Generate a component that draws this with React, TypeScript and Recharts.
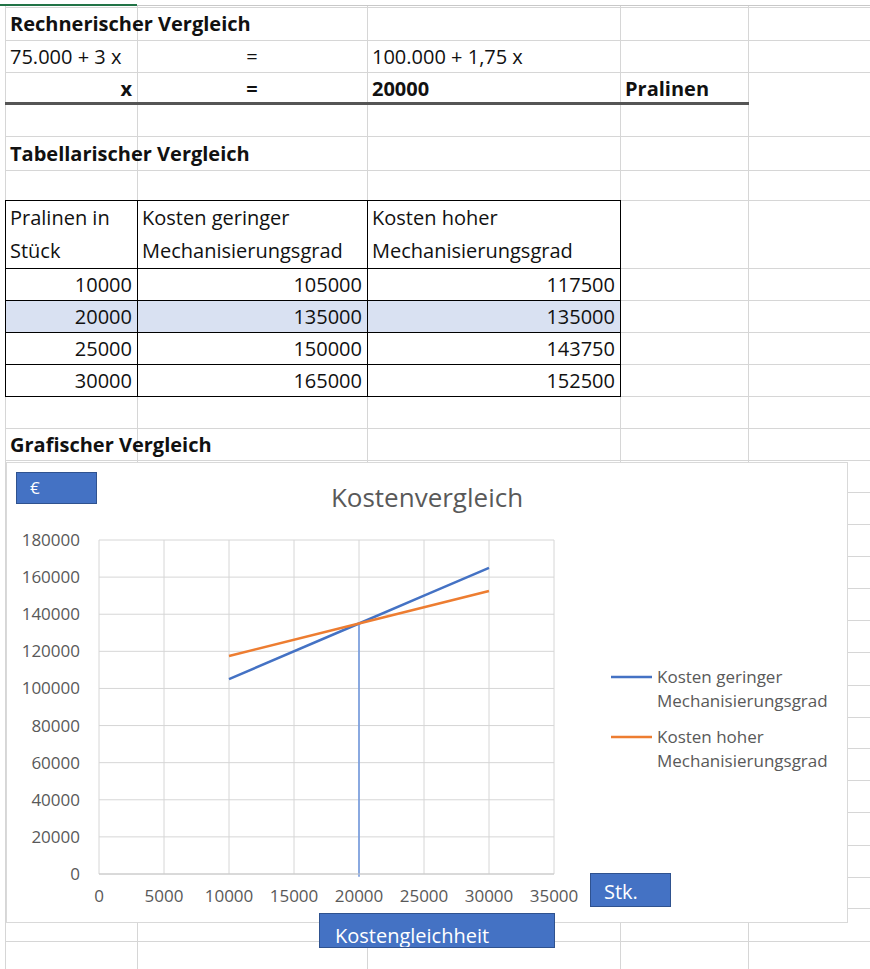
import React from 'react';
import { LineChart, Line, XAxis, YAxis, CartesianGrid, Legend, ReferenceLine } from 'recharts';

// ---- data ----
const units = [10000, 20000, 25000, 30000];
const costLow = [105000, 135000, 150000, 165000];
const costHigh = [117500, 135000, 143750, 152500];
const xTicks = [0, 5000, 10000, 15000, 20000, 25000, 30000, 35000];
const yTicks = [0, 20000, 40000, 60000, 80000, 100000, 120000, 140000, 160000, 180000];
const seriesLow = 'Kosten geringer Mechanisierungsgrad';
const seriesHigh = 'Kosten hoher Mechanisierungsgrad';
const breakEven = { x: 20000, y: 135000 };

const FONT = '"Open Sans", "DejaVu Sans", sans-serif';
const GRID = '#d6d6d6';
const BLUE = '#4472C4';
const ORANGE = '#ED7D31';
const TXT = '#595959';

const colX = [5, 137, 367, 620, 748, 870];
const rowY = [7, 40, 72, 104, 136, 170, 200, 268, 300, 332, 364, 396, 428, 460];
const extraRowY = [492, 524, 556, 588, 620, 652, 685, 717, 748, 780, 812, 845, 877, 908, 941];

type CellProps = {
  c: number;
  r: number;
  text: React.ReactNode;
  align?: 'left' | 'right' | 'center';
  bold?: boolean;
  span?: number;
};

function Cell({ c, r, text, align = 'left', bold = false, span = 1 }: CellProps) {
  const left = colX[c];
  const width = colX[c + span] - left;
  const top = rowY[r];
  const height = rowY[r + 1] - top;
  return (
    <div
      style={{
        position: 'absolute',
        left,
        top,
        width,
        height,
        display: 'flex',
        alignItems: 'center',
        justifyContent: align === 'left' ? 'flex-start' : align === 'right' ? 'flex-end' : 'center',
        padding: '0 5px',
        boxSizing: 'border-box',
        fontWeight: bold ? 700 : 400,
        fontSize: 20,
        whiteSpace: 'nowrap',
        overflow: 'visible',
        color: '#111',
      }}
    >
      {text}
    </div>
  );
}

function HLine({ y, x1, x2, color = GRID, w = 1 }: { y: number; x1: number; x2: number; color?: string; w?: number }) {
  return <div style={{ position: 'absolute', left: x1, top: y, width: x2 - x1, height: w, background: color }} />;
}
function VLine({ x, y1, y2, color = GRID, w = 1 }: { x: number; y1: number; y2: number; color?: string; w?: number }) {
  return <div style={{ position: 'absolute', left: x, top: y1, width: w, height: y2 - y1, background: color }} />;
}

function LegendContent() {
  const items = [
    { name: seriesLow, color: BLUE },
    { name: seriesHigh, color: ORANGE },
  ];
  return (
    <div style={{ fontFamily: FONT, fontSize: 17, color: TXT }}>
      {items.map((it, i) => {
        const words = it.name.split(' ');
        const l1 = words.slice(0, 2).join(' ');
        const l2 = words.slice(2).join(' ');
        return (
          <div key={i} style={{ display: 'flex', marginBottom: 12 }}>
            <svg width={46} height={24} style={{ flex: 'none' }}>
              <line x1={0} y1={12} x2={41} y2={12} stroke={it.color} strokeWidth={2.5} />
            </svg>
            <div style={{ lineHeight: '24px', whiteSpace: 'nowrap' }}>
              <div>{l1}</div>
              <div>{l2}</div>
            </div>
          </div>
        );
      })}
    </div>
  );
}

const boxStyle: React.CSSProperties = {
  position: 'absolute',
  background: BLUE,
  border: '1px solid #2F528F',
  boxSizing: 'border-box',
  color: '#fff',
  fontFamily: FONT,
};

export default function App() {
  const data = units.map((u, i) => ({ units: u, low: costLow[i], high: costHigh[i] }));
  const chartLeft = 6;
  const chartTop = 462;
  const chartW = 842;
  const chartH = 461;

  return (
    <div
      style={{
        position: 'absolute',
        left: 0,
        top: 0,
        width: 870,
        height: 969,
        background: '#fff',
        overflow: 'hidden',
        fontFamily: FONT,
      }}
    >
      {/* header strip */}
      <HLine y={4} x1={0} x2={137} color="#217346" w={2} />
      <HLine y={5} x1={137} x2={870} color="#c8c8c8" />

      {/* spreadsheet gridlines */}
      {rowY.map((y, i) => (i === 3 ? null : <HLine key={'r' + i} y={y} x1={5} x2={870} />))}
      {extraRowY.map((y, i) => (
        <HLine key={'e' + i} y={y} x1={5} x2={870} />
      ))}
      {colX.slice(0, 5).map((x, i) => (
        <VLine key={'c' + i} x={x} y1={6} y2={969} />
      ))}
      <div style={{ position: 'absolute', left: 5, top: 201, width: 615, height: 67, background: '#fff' }} />
      <HLine y={102} x1={5} x2={749} color="#555" w={3} />

      {/* highlighted row */}
      <div style={{ position: 'absolute', left: 5, top: 300, width: 615, height: 32, background: '#D9E1F2' }} />

      {/* table borders */}
      {[200, 268, 300, 332, 364, 396].map((y) => (
        <HLine key={'tb' + y} y={y} x1={5} x2={621} color="#000" />
      ))}
      {[5, 137, 367, 620].map((x) => (
        <VLine key={'tv' + x} x={x} y1={200} y2={397} color="#000" />
      ))}

      {/* cells */}
      <Cell c={0} r={0} text="Rechnerischer Vergleich" bold />
      <Cell c={0} r={1} text="75.000 + 3 x" />
      <Cell c={1} r={1} text="=" align="center" />
      <Cell c={2} r={1} text="100.000 + 1,75 x" />
      <Cell c={0} r={2} text="x" align="right" bold />
      <Cell c={1} r={2} text="=" align="center" bold />
      <Cell c={2} r={2} text={String(breakEven.x)} bold />
      <Cell c={3} r={2} text="Pralinen" bold />
      <Cell c={0} r={4} text="Tabellarischer Vergleich" bold />
      <Cell
        c={0}
        r={6}
        text={
          <div style={{ lineHeight: '33px' }}>
            <div>Pralinen in</div>
            <div>Stück</div>
          </div>
        }
      />
      <Cell
        c={1}
        r={6}
        text={
          <div style={{ lineHeight: '33px' }}>
            <div>Kosten geringer</div>
            <div>Mechanisierungsgrad</div>
          </div>
        }
      />
      <Cell
        c={2}
        r={6}
        text={
          <div style={{ lineHeight: '33px' }}>
            <div>Kosten hoher</div>
            <div>Mechanisierungsgrad</div>
          </div>
        }
      />
      {units.map((u, i) => (
        <React.Fragment key={'row' + i}>
          <Cell c={0} r={7 + i} text={String(u)} align="right" />
          <Cell c={1} r={7 + i} text={String(costLow[i])} align="right" />
          <Cell c={2} r={7 + i} text={String(costHigh[i])} align="right" />
        </React.Fragment>
      ))}
      <Cell c={0} r={12} text="Grafischer Vergleich" bold />

      {/* chart */}
      <div style={{ position: 'absolute', left: chartLeft, top: chartTop, width: chartW, height: chartH, background: '#fff' }}>
        <LineChart
          width={chartW}
          height={chartH}
          data={data}
          margin={{ top: 78, right: 294, bottom: 19, left: 19 }}
        >
          <CartesianGrid stroke={GRID} />
          <XAxis
            type="number"
            dataKey="units"
            domain={[0, 35000]}
            ticks={xTicks}
            interval={0}
            axisLine={{ stroke: '#c8c8c8' }}
            tickLine={false}
            tickMargin={10}
            height={30}
            tick={{ fill: TXT, fontSize: 17, fontFamily: FONT }}
          />
          <YAxis
            type="number"
            domain={[0, 180000]}
            ticks={yTicks}
            interval={0}
            axisLine={false}
            tickLine={false}
            width={74}
            tickMargin={13}
            tick={{ fill: TXT, fontSize: 17, fontFamily: FONT }}
          />
          <Legend
            layout="horizontal"
            verticalAlign="middle"
            align="center"
            content={() => <LegendContent />}
            wrapperStyle={{ left: 605, top: 203, width: 236 }}
          />
          <ReferenceLine
            segment={[
              { x: breakEven.x, y: -1500 },
              { x: breakEven.x, y: breakEven.y },
            ]}
            stroke="#6a93dc"
            strokeWidth={1.5}
            ifOverflow="visible"
          />
          <Line
            type="linear"
            dataKey="low"
            name={seriesLow}
            stroke={BLUE}
            strokeWidth={2.5}
            dot={false}
            isAnimationActive={false}
          />
          <Line
            type="linear"
            dataKey="high"
            name={seriesHigh}
            stroke={ORANGE}
            strokeWidth={2.5}
            dot={false}
            isAnimationActive={false}
          />
        </LineChart>
        <div
          style={{
            position: 'absolute',
            left: 0,
            top: 17,
            width: chartW,
            textAlign: 'center',
            fontSize: 26,
            color: TXT,
            fontFamily: FONT,
          }}
        >
          Kostenvergleich
        </div>
      </div>
      <div style={{ position: 'absolute', left: chartLeft, top: chartTop, width: chartW, height: chartH, border: '1px solid #d9d9d9', boxSizing: 'border-box', pointerEvents: 'none' }} />

      {/* blue shape boxes */}
      <div style={{ ...boxStyle, left: 16, top: 472, width: 81, height: 32, fontSize: 17, paddingLeft: 13, lineHeight: '30px' }}>€</div>
      <div style={{ ...boxStyle, left: 590, top: 873, width: 81, height: 34, fontSize: 20, paddingLeft: 13, paddingTop: 5, lineHeight: '26px' }}>Stk.</div>
      <div style={{ ...boxStyle, left: 319, top: 913, width: 236, height: 35, fontSize: 20, paddingLeft: 15, paddingTop: 9, lineHeight: '26px', overflow: 'hidden' }}>
        Kostengleichheit
      </div>
    </div>
  );
}
